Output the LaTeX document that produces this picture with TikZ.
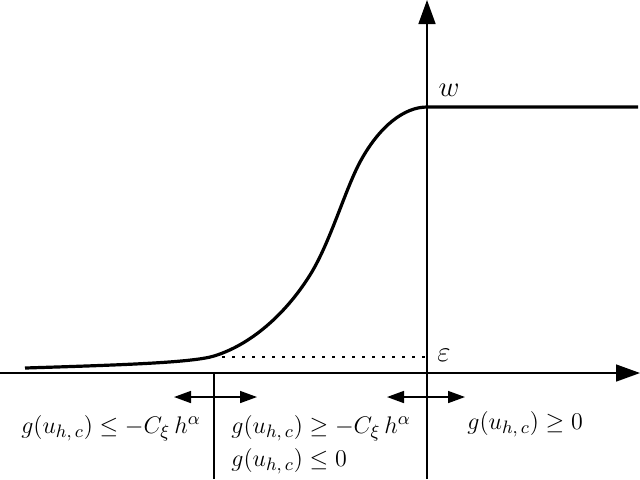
\documentclass[tikz,border=0pt]{standalone}
\usetikzlibrary{arrows.meta}
\newcommand\smallm[1]{\mbox{\fontsize{9.5}{11}\selectfont$#1$}}
\begin{document}
\begin{tikzpicture}[x=0.5pt,y=-0.5pt,
  axis/.style={line width=0.8pt,-{Triangle[length=12pt,width=8.5pt]}},
  thinline/.style={line width=0.8pt},
  curve/.style={line width=1.6pt,line join=round},
  dbl/.style={line width=0.8pt,{Triangle[length=8.5pt,width=6pt]}-{Triangle[length=8.5pt,width=6pt]}},
  lab/.style={inner sep=0pt,font=\fontsize{12}{14}\selectfont},
  big/.style={inner sep=0pt,font=\fontsize{15}{18}\selectfont}]
\useasboundingbox (0,0) rectangle (640,479);
% axes
\coordinate (xs) at (0,373);
\coordinate (xe) at (640,373);
\coordinate (ys) at (427,479);
\coordinate (ye) at (427,0);
\coordinate (vs) at (214,373);
\coordinate (ve) at (214,479);
\draw[axis] (xs) -- (xe);
\draw[axis] (ys) -- (ye);
\draw[thinline] (vs) -- (ve);
% curve
\coordinate (c0) at (25,368);
\coordinate (ctop) at (427,107);
\coordinate (cend) at (638,107);
\draw[curve] (c0) .. controls (120,365) and (192,362.7) .. (214,356)
  .. controls (250,345) and (285,315) .. (310,275)
  .. controls (330,243) and (345,190) .. (360,162)
  .. controls (380,125) and (405,107) .. (ctop) -- (cend);
% dotted
\coordinate (d0) at (222,357);
\coordinate (d1) at (427,357);
\draw[line width=0.8pt,dash pattern=on 1.5pt off 3.5pt] (d0) -- (d1);
\node[big] (eps) at (444,355) {$\varepsilon$};
\node[big] (w) at (449,90) {$w$};
% double arrows
\coordinate (a0) at (174,397);
\coordinate (a1) at (257,397);
\coordinate (b0) at (387,397);
\coordinate (b1) at (465,397);
\draw[dbl] (a0) -- (a1);
\draw[dbl] (b0) -- (b1);
% labels
\node[lab] (l1) at (111,428) {$g(u_{\smallm{h,c}})\le -C_{\smallm{\xi}}\,h^{\smallm{\alpha}}$};
\node[lab,anchor=west] (l2) at (231,428) {$g(u_{\smallm{h,c}})\ge -C_{\smallm{\xi}}\,h^{\smallm{\alpha}}$};
\node[lab,anchor=west] (l3) at (231,461) {$g(u_{\smallm{h,c}})\le 0$};
\node[lab,anchor=west] (l4) at (467,424) {$g(u_{\smallm{h,c}})\ge 0$};
\end{tikzpicture}
\end{document}
